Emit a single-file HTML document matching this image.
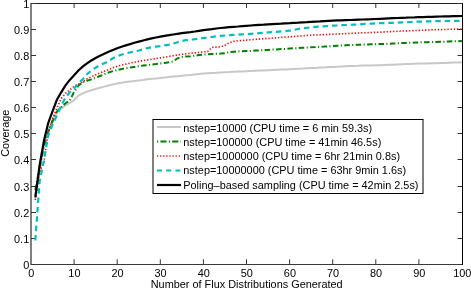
<!DOCTYPE html>
<html><head><meta charset="utf-8"><style>
html,body{margin:0;padding:0;background:#fff;}
body{width:471px;height:288px;overflow:hidden;}
svg{display:block;will-change:transform;}
text{font-family:"Liberation Sans",sans-serif;font-size:10.9px;fill:#000;}
</style></head><body>
<svg width="471" height="288" viewBox="0 0 471 288">
<rect width="471" height="288" fill="#fff"/>
<path d="M31,3.5H462.5" stroke="#222" stroke-width="1" fill="none"/>
<path d="M31,264.5H462.5" stroke="#3a3a3a" stroke-width="1.2" fill="none"/>
<path d="M31,3V265" stroke="#000" stroke-width="1" fill="none"/>
<path d="M462.5,3V265" stroke="#000" stroke-width="1" fill="none"/>
<path d="M74.10,264V259.3M74.10,3.5V8M117.20,264V259.3M117.20,3.5V8M160.30,264V259.3M160.30,3.5V8M203.40,264V259.3M203.40,3.5V8M246.50,264V259.3M246.50,3.5V8M289.60,264V259.3M289.60,3.5V8M332.70,264V259.3M332.70,3.5V8M375.80,264V259.3M375.80,3.5V8M418.90,264V259.3M418.90,3.5V8M31,264.50H36M462,264.50H457.5M31,238.50H36M462,238.50H457.5M31,212.50H36M462,212.50H457.5M31,186.50H36M462,186.50H457.5M31,159.50H36M462,159.50H457.5M31,133.50H36M462,133.50H457.5M31,107.50H36M462,107.50H457.5M31,81.50H36M462,81.50H457.5M31,55.50H36M462,55.50H457.5M31,29.50H36M462,29.50H457.5M31,3.50H36M462,3.50H457.5" stroke="#333" stroke-width="1" fill="none"/>
<polyline points="35.3,196.0 39.6,169.0 43.9,146.0 48.2,131.0 52.5,120.0 56.9,112.0 61.2,108.3 65.5,105.5 69.8,103.0 74.1,100.3 78.4,95.5 82.7,93.3 87.0,91.6 91.3,90.3 95.6,89.0 100.0,87.8 104.3,86.6 108.6,85.5 112.9,84.4 117.2,83.5 121.5,82.8 125.8,82.1 130.1,81.5 134.4,80.9 138.8,80.4 143.1,79.9 147.4,79.3 151.7,78.8 156.0,78.4 160.3,77.9 164.6,77.5 168.9,77.0 173.2,76.6 177.5,76.2 181.8,75.8 186.2,75.3 190.5,74.9 194.8,74.4 199.1,74.0 203.4,73.6 207.7,73.3 212.0,73.0 216.3,72.8 220.6,72.5 224.9,72.3 229.3,72.1 233.6,71.8 237.9,71.6 242.2,71.4 246.5,71.2 250.8,71.0 255.1,70.8 259.4,70.6 263.7,70.4 268.0,70.2 272.4,70.0 276.7,69.8 281.0,69.6 285.3,69.4 289.6,69.2 293.9,69.0 298.2,68.8 302.5,68.6 306.8,68.3 311.1,68.1 315.5,67.9 319.8,67.6 324.1,67.4 328.4,67.1 332.7,66.9 337.0,66.7 341.3,66.5 345.6,66.3 349.9,66.1 354.2,65.9 358.6,65.8 362.9,65.6 367.2,65.5 371.5,65.4 375.8,65.3 380.1,65.2 384.4,65.0 388.7,64.8 393.0,64.7 397.3,64.5 401.7,64.3 406.0,64.1 410.3,63.9 414.6,63.7 418.9,63.6 423.2,63.5 427.5,63.4 431.8,63.3 436.1,63.2 440.4,63.1 444.8,63.0 449.1,62.8 453.4,62.6 457.7,62.4 462.0,62.2" fill="none" stroke="#c8c8c8" stroke-width="2"/>
<polyline points="35.3,190.0 39.6,168.0 43.9,146.0 48.2,132.0 52.5,121.5 56.9,111.5 61.2,107.3 65.5,103.2 69.8,100.5 74.1,91.8 78.4,85.5 82.7,82.6 87.0,80.7 91.3,79.4 95.6,77.8 100.0,76.0 104.3,74.2 108.6,72.5 112.9,71.1 117.2,70.0 121.5,69.1 125.8,68.3 130.1,67.5 134.4,66.9 138.8,66.2 143.1,65.6 147.4,65.1 151.7,64.5 156.0,64.0 160.3,63.4 164.6,62.9 168.9,62.3 173.2,61.3 177.5,58.3 181.8,57.0 186.2,56.5 190.5,56.2 194.8,55.6 199.1,55.1 203.4,54.7 207.7,54.3 212.0,54.0 216.3,53.8 220.6,53.6 224.9,53.3 229.3,52.0 233.6,51.7 237.9,51.4 242.2,51.3 246.5,51.1 250.8,50.9 255.1,50.6 259.4,50.4 263.7,50.1 268.0,49.9 272.4,49.6 276.7,49.4 281.0,49.1 285.3,48.9 289.6,48.6 293.9,48.3 298.2,48.1 302.5,47.8 306.8,47.6 311.1,47.3 315.5,47.1 319.8,46.8 324.1,46.6 328.4,46.3 332.7,46.1 337.0,45.8 341.3,45.6 345.6,45.3 349.9,45.1 354.2,44.9 358.6,44.7 362.9,44.6 367.2,44.5 371.5,44.3 375.8,44.2 380.1,44.0 384.4,43.9 388.7,43.7 393.0,43.5 397.3,43.3 401.7,43.1 406.0,42.9 410.3,42.7 414.6,42.6 418.9,42.4 423.2,42.3 427.5,42.2 431.8,42.0 436.1,41.9 440.4,41.8 444.8,41.7 449.1,41.5 453.4,41.3 457.7,41.2 462.0,41.0" fill="none" stroke="#008000" stroke-width="2" stroke-dasharray="5.5,2.4,1.1,2.4"/>
<polyline points="35.3,200.0 39.6,172.0 43.9,162.0 48.2,133.0 52.5,119.0 56.9,108.0 61.2,98.5 65.5,93.3 69.8,89.9 74.1,86.3 78.4,84.2 82.7,81.8 87.0,78.8 91.3,76.8 95.6,74.8 100.0,73.0 104.3,71.3 108.6,69.5 112.9,67.8 117.2,66.3 121.5,65.1 125.8,64.1 130.1,63.1 134.4,62.2 138.8,61.4 143.1,60.6 147.4,59.9 151.7,59.2 156.0,58.6 160.3,57.9 164.6,57.2 168.9,56.4 173.2,55.7 177.5,55.0 181.8,54.4 186.2,53.8 190.5,53.3 194.8,52.9 199.1,52.4 203.4,51.9 207.7,51.4 212.0,47.4 216.3,47.1 220.6,46.8 224.9,45.4 229.3,42.7 233.6,41.4 237.9,40.8 242.2,40.5 246.5,40.1 250.8,39.7 255.1,39.4 259.4,39.1 263.7,38.7 268.0,38.4 272.4,38.1 276.7,37.8 281.0,37.4 285.3,37.1 289.6,36.8 293.9,36.5 298.2,36.1 302.5,35.8 306.8,35.5 311.1,35.2 315.5,35.0 319.8,34.8 324.1,34.6 328.4,34.4 332.7,34.2 337.0,34.0 341.3,33.8 345.6,33.6 349.9,33.4 354.2,33.2 358.6,33.0 362.9,32.8 367.2,32.7 371.5,32.5 375.8,32.3 380.1,32.1 384.4,31.9 388.7,31.7 393.0,31.5 397.3,31.3 401.7,31.1 406.0,30.9 410.3,30.7 414.6,30.6 418.9,30.4 423.2,30.2 427.5,30.1 431.8,29.9 436.1,29.7 440.4,29.6 444.8,29.5 449.1,29.3 453.4,29.2 457.7,29.1 462.0,29.0" fill="none" stroke="#ff0000" stroke-width="1.6" stroke-dasharray="1.3,1.9"/>
<polyline points="35.3,240.5 39.6,181.5 43.9,160.5 48.2,135.5 52.5,124.9 56.9,115.5 61.2,105.5 65.5,97.5 69.8,92.3 74.1,88.4 78.4,83.7 82.7,79.2 87.0,74.2 91.3,70.6 95.6,67.7 100.0,65.0 104.3,63.2 108.6,61.3 112.9,58.3 117.2,56.2 121.5,54.7 125.8,53.4 130.1,52.4 134.4,51.5 138.8,50.5 143.1,49.3 147.4,48.1 151.7,47.2 156.0,46.6 160.3,46.1 164.6,45.4 168.9,44.6 173.2,43.5 177.5,42.2 181.8,41.0 186.2,40.2 190.5,39.7 194.8,39.2 199.1,38.6 203.4,38.0 207.7,37.5 212.0,37.0 216.3,36.4 220.6,35.8 224.9,35.5 229.3,35.2 233.6,34.9 237.9,34.7 242.2,34.4 246.5,34.1 250.8,33.8 255.1,33.5 259.4,33.1 263.7,32.8 268.0,32.4 272.4,32.1 276.7,31.8 281.0,31.4 285.3,31.1 289.6,30.6 293.9,29.9 298.2,29.0 302.5,28.3 306.8,27.8 311.1,27.3 315.5,26.9 319.8,26.6 324.1,26.3 328.4,26.0 332.7,25.7 337.0,25.5 341.3,25.2 345.6,25.0 349.9,24.8 354.2,24.6 358.6,24.4 362.9,24.1 367.2,23.9 371.5,23.6 375.8,23.4 380.1,23.2 384.4,23.1 388.7,22.9 393.0,22.8 397.3,22.6 401.7,22.4 406.0,22.2 410.3,22.0 414.6,21.8 418.9,21.6 423.2,21.5 427.5,21.4 431.8,21.3 436.1,21.2 440.4,21.1 444.8,21.0 449.1,20.9 453.4,20.8 457.7,20.8 462.0,20.7" fill="none" stroke="#00bfbf" stroke-width="2.2" stroke-dasharray="5.5,3.9"/>
<polyline points="35.3,197.5 39.6,165.5 43.9,141.0 48.2,123.0 52.5,111.3 56.9,99.8 61.2,92.3 65.5,85.3 69.8,79.9 74.1,75.2 78.4,70.5 82.7,66.7 87.0,63.3 91.3,60.5 95.6,58.0 100.0,55.8 104.3,53.8 108.6,51.8 112.9,50.0 117.2,48.2 121.5,46.7 125.8,45.4 130.1,44.1 134.4,42.8 138.8,41.6 143.1,40.5 147.4,39.4 151.7,38.4 156.0,37.5 160.3,36.6 164.6,35.8 168.9,35.2 173.2,34.5 177.5,33.8 181.8,33.2 186.2,32.6 190.5,32.1 194.8,31.5 199.1,30.8 203.4,30.2 207.7,29.6 212.0,29.1 216.3,28.5 220.6,28.0 224.9,27.6 229.3,27.2 233.6,26.8 237.9,26.5 242.2,26.1 246.5,25.8 250.8,25.5 255.1,25.2 259.4,24.9 263.7,24.7 268.0,24.4 272.4,24.1 276.7,23.9 281.0,23.7 285.3,23.4 289.6,23.2 293.9,22.9 298.2,22.7 302.5,22.4 306.8,22.2 311.1,21.9 315.5,21.6 319.8,21.4 324.1,21.1 328.4,20.8 332.7,20.6 337.0,20.4 341.3,20.3 345.6,20.1 349.9,20.0 354.2,19.8 358.6,19.6 362.9,19.5 367.2,19.3 371.5,19.2 375.8,19.0 380.1,18.8 384.4,18.6 388.7,18.4 393.0,18.2 397.3,18.0 401.7,17.8 406.0,17.7 410.3,17.5 414.6,17.4 418.9,17.2 423.2,17.1 427.5,16.9 431.8,16.8 436.1,16.6 440.4,16.5 444.8,16.4 449.1,16.3 453.4,16.2 457.7,16.1 462.0,16.0" fill="none" stroke="#000" stroke-width="2.2"/>
<text x="31.30" y="277.30" text-anchor="middle" >0</text>
<text x="74.40" y="277.30" text-anchor="middle" >10</text>
<text x="117.50" y="277.30" text-anchor="middle" >20</text>
<text x="160.60" y="277.30" text-anchor="middle" >30</text>
<text x="203.70" y="277.30" text-anchor="middle" >40</text>
<text x="246.80" y="277.30" text-anchor="middle" >50</text>
<text x="289.90" y="277.30" text-anchor="middle" >60</text>
<text x="333.00" y="277.30" text-anchor="middle" >70</text>
<text x="376.10" y="277.30" text-anchor="middle" >80</text>
<text x="419.20" y="277.30" text-anchor="middle" >90</text>
<text x="462.30" y="277.30" text-anchor="middle" >100</text>
<text x="29.20" y="269.10" text-anchor="end" >0</text>
<text x="29.20" y="243.10" text-anchor="end" >0.1</text>
<text x="29.20" y="217.10" text-anchor="end" >0.2</text>
<text x="29.20" y="191.10" text-anchor="end" >0.3</text>
<text x="29.20" y="164.10" text-anchor="end" >0.4</text>
<text x="29.20" y="138.10" text-anchor="end" >0.5</text>
<text x="29.20" y="112.10" text-anchor="end" >0.6</text>
<text x="29.20" y="86.10" text-anchor="end" >0.7</text>
<text x="29.20" y="60.10" text-anchor="end" >0.8</text>
<text x="29.20" y="34.10" text-anchor="end" >0.9</text>
<text x="29.20" y="8.10" text-anchor="end" >1</text>
<text x="246.70" y="288.00" text-anchor="middle" >Number of Flux Distributions Generated</text>
<text transform="translate(9.0,133.2) rotate(-90)" text-anchor="middle">Coverage</text>
<rect x="153" y="119.5" width="270" height="74" fill="#fff" stroke="#000" stroke-width="1"/>
<line x1="157" y1="127.0" x2="181" y2="127.0" stroke="#c8c8c8" stroke-width="2"/>
<text x="183.30" y="132.00" text-anchor="start" >nstep=10000 (CPU time = 6 min 59.3s)</text>
<line x1="157" y1="141.6" x2="181" y2="141.6" stroke="#008000" stroke-width="2" stroke-dasharray="1.2,2.2,6.1,2.3"/>
<text x="183.30" y="146.00" text-anchor="start" >nstep=100000 (CPU time = 41min 46.5s)</text>
<line x1="157" y1="156.0" x2="181" y2="156.0" stroke="#ff0000" stroke-width="1.6" stroke-dasharray="1.2,1.9"/>
<text x="183.30" y="160.00" text-anchor="start" >nstep=1000000 (CPU time = 6hr 21min 0.8s)</text>
<line x1="157" y1="170.5" x2="181" y2="170.5" stroke="#00bfbf" stroke-width="2.2" stroke-dasharray="5,4.2"/>
<text x="183.30" y="174.20" text-anchor="start" >nstep=10000000 (CPU time = 63hr 9min 1.6s)</text>
<line x1="157" y1="185.0" x2="181" y2="185.0" stroke="#000" stroke-width="2.2"/>
<text x="183.30" y="189.00" text-anchor="start" >Poling–based sampling (CPU time = 42min 2.5s)</text>
</svg>
</body></html>
